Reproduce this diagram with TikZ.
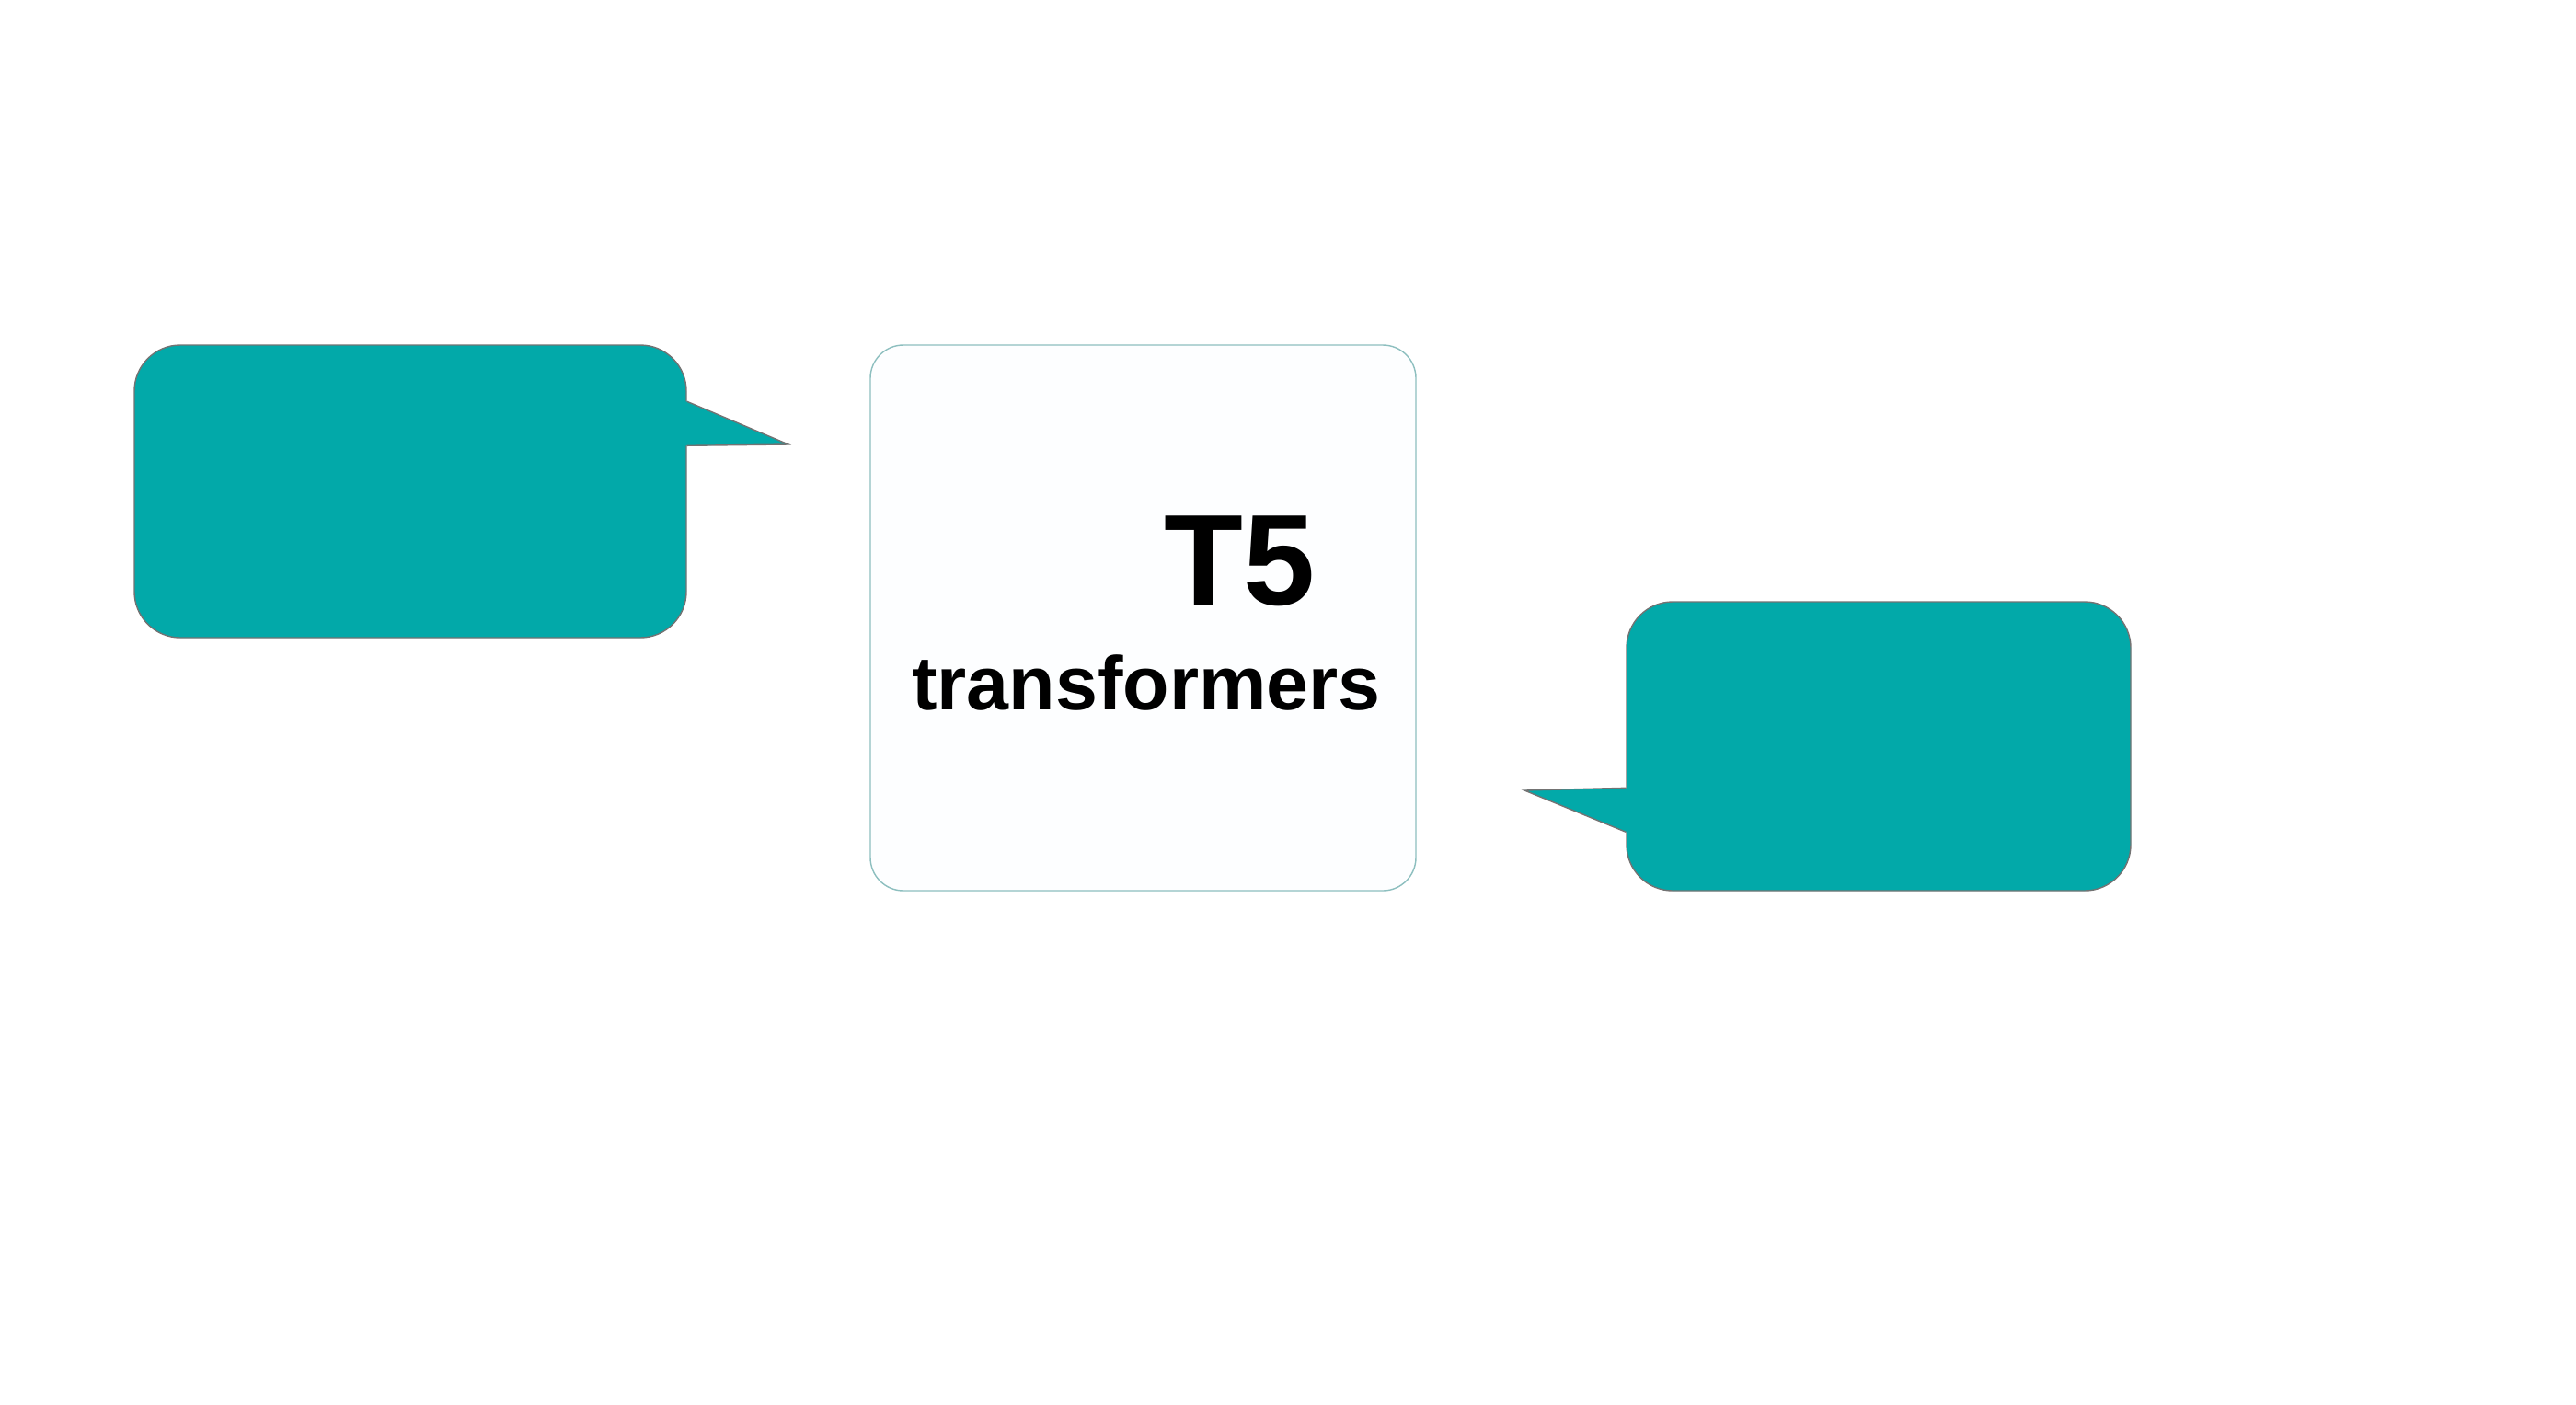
\documentclass[tikz,border=0pt]{standalone}
\usepackage{fontspec}
\setmainfont{Liberation Sans}
\definecolor{bubbleTeal}{HTML}{02A9A9}
\definecolor{boxWhite}{HTML}{FDFEFF}

\begin{document}
\begin{tikzpicture}
[bubbleBody/.style={shape=rectangle,rounded corners=0.5cm,fill=bubbleTeal,draw=black!55,thin,inner sep=0pt},%
  bubbleTail/.style={fill=bubbleTeal},%
  tailEdge/.style={draw=black!55,thin},%
  modelBox/.style={shape=rectangle,rounded corners=0.36cm,fill=boxWhite,draw=bubbleTeal!50!gray!60,thin,minimum width=5.93cm,minimum height=5.93cm,inner sep=0pt},%
  bigLabel/.style={font=\bfseries\fontsize{40}{40}\selectfont,inner sep=0pt},%
  smallLabel/.style={font=\bfseries\fontsize{23.5}{24}\selectfont,inner sep=0pt}]
\useasboundingbox (0,0) rectangle (28,-15.26);
%% bubbles and box
\node (left) at (4.46,-5.34) [bubbleBody,minimum width=6cm,minimum height=3.18cm] {};
\node (model) at (12.425,-6.715) [modelBox] {};
\node (right) at (20.42,-8.11) [bubbleBody,minimum width=5.48cm,minimum height=3.14cm] {};
%% tails
\coordinate (leftTip) at (8.57,-4.83);
\coordinate (rightTip) at (16.57,-8.59);
\fill[bubbleTail] ([xshift=-0.1cm,yshift=-0.62cm]left.north east) -- ([yshift=-0.62cm]left.north east)
  -- (leftTip) -- ([yshift=-1.1cm]left.north east) -- ([xshift=-0.1cm,yshift=-1.1cm]left.north east) -- cycle;
\draw[tailEdge] ([yshift=-0.62cm]left.north east) -- (leftTip) -- ([yshift=-1.1cm]left.north east);
\fill[bubbleTail] ([xshift=0.1cm,yshift=-2.03cm]right.north west) -- ([yshift=-2.03cm]right.north west)
  -- (rightTip) -- ([yshift=-2.51cm]right.north west) -- ([xshift=0.1cm,yshift=-2.51cm]right.north west) -- cycle;
\draw[tailEdge] ([yshift=-2.03cm]right.north west) -- (rightTip) -- ([yshift=-2.51cm]right.north west);
%% labels
\node (t5) at (13.48,-6.57) [bigLabel,anchor=base] {T5};
\node (name) at (12.46,-7.71) [smallLabel,anchor=base] {transformers};
\end{tikzpicture}
\end{document}
